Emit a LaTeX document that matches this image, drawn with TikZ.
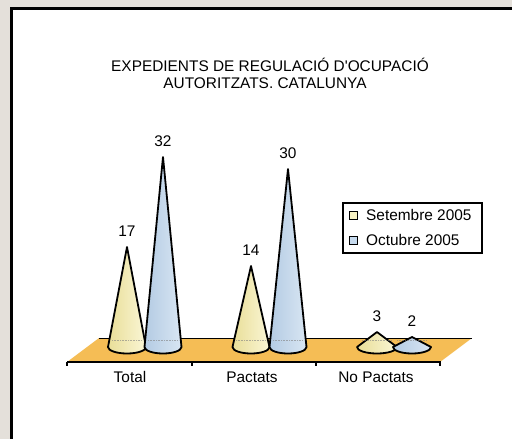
\documentclass[tikz,border=0pt]{standalone}
\usepackage{fontspec}
\setmainfont{Liberation Sans}[Ligatures=TeXOff]
\definecolor{bggray}{HTML}{E4E0DA}
\definecolor{floorc}{HTML}{F5BD55}
\definecolor{yelL}{HTML}{E9DE98}
\definecolor{yelR}{HTML}{FAF6D6}
\definecolor{bluL}{HTML}{B3CBE3}
\definecolor{bluR}{HTML}{D9E6F3}
\definecolor{yelSw}{HTML}{F7F2C2}
\definecolor{bluSw}{HTML}{C6DAEE}
\begin{document}
\begin{tikzpicture}[x=1pt,y=-1pt,
  txt/.style={font=\fontsize{15.4}{17}\selectfont, inner sep=0pt},
  conestyle/.style={draw=black, line width=1.8pt, line join=round},
  yel/.style={conestyle, left color=yelL, right color=yelR},
  blu/.style={conestyle, left color=bluL, right color=bluR},
  swatch/.style={draw=black, line width=1pt, minimum size=8pt, inner sep=0pt}]
\useasboundingbox (0,0) rectangle (512,439);
\fill[bggray] (0,0) rectangle (512,439);
\draw[line width=3pt, fill=white] (11.5,8.5) rectangle (540,470);
% title
\node[txt] (t1) at (270,65) {EXPEDIENTS DE REGULACIÓ D'OCUPACIÓ};
\node[txt] (t2) at (265,83) {AUTORITZATS. CATALUNYA};
% floor
\fill[floorc] (67,362) -- (99,338) -- (472,338) -- (440,362) -- cycle;
\draw[line width=1pt] (99,338) -- (472,338);
\draw[line width=2pt] (67,362) -- (441,362);
\foreach \x in {67,192,316,440} \draw[line width=1.5pt] (\x,362) -- (\x,366);
% cones
\newcommand{\cone}[5]{% style, cx, apex y, rx, name
  \draw[#1] (#2,#3) -- (#2-#4,347) arc[start angle=180,end angle=0,x radius=#4,y radius=6.5] -- cycle;
  \coordinate (#5) at (#2,#3);
}
\cone{yel}{127}{247}{19}{ts}
\cone{blu}{163}{157}{18.5}{to}
\cone{yel}{251}{266}{18.5}{ps}
\cone{blu}{288}{169}{18.5}{po}
\cone{yel}{377}{332}{20}{ns}
\cone{blu}{412}{337}{19}{no}
\foreach \c in {127,163,251,288,377,412}
  \draw[gray, densely dotted, line width=0.6pt, opacity=0.6] (\c-15,340) -- (\c+15,340);
% values
\node[txt, anchor=south] (vts) at ([yshift=10pt]ts) {17};
\node[txt, anchor=south] (vto) at ([yshift=10pt]to) {32};
\node[txt, anchor=south] (vps) at ([yshift=10pt]ps) {14};
\node[txt, anchor=south] (vpo) at ([yshift=10pt]po) {30};
\node[txt, anchor=south] (vns) at ([yshift=10pt]ns) {3};
\node[txt, anchor=south] (vno) at ([yshift=10pt]no) {2};
% categories
\node[txt] (c1) at (130,377) {Total};
\node[txt] (c2) at (252,377) {Pactats};
\node[txt] (c3) at (376,377) {No Pactats};
% legend
\draw[line width=1.5pt, fill=white] (343,203) rectangle (482,253);
\node[swatch, fill=yelSw] (s1) at (353,215) {};
\node[swatch, fill=bluSw] (s2) at (353,240) {};
\node[txt, anchor=west] (l1) at (366,215) {Setembre 2005};
\node[txt, anchor=west] (l2) at (366,240) {Octubre 2005};
\end{tikzpicture}
\end{document}
